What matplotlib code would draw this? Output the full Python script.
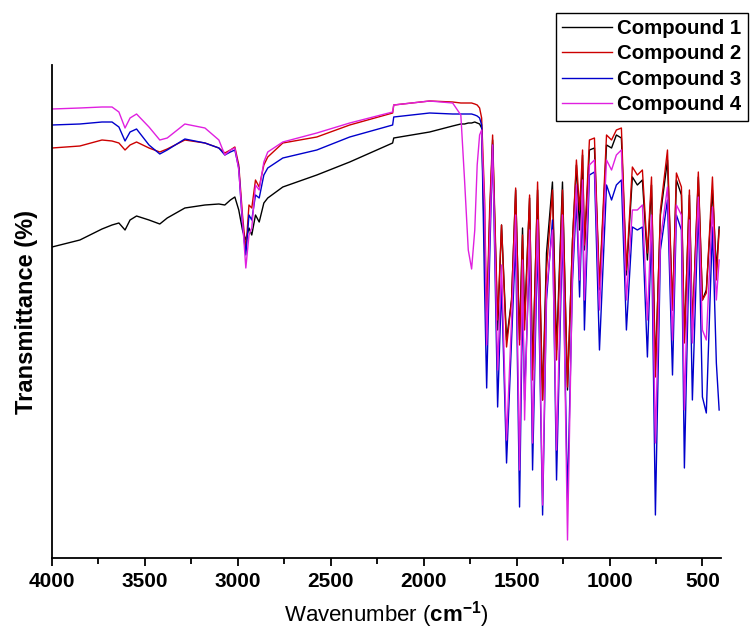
import matplotlib
matplotlib.use("Agg")
import matplotlib.pyplot as plt

plt.rcParams['font.family'] = ['Liberation Sans', 'DejaVu Sans']
plt.rcParams['mathtext.fontset'] = 'custom'
plt.rcParams['mathtext.rm'] = 'Liberation Sans'
plt.rcParams['mathtext.bf'] = 'Liberation Sans:bold'

# ---- data: wavenumber grid (cm-1) and transmittance (%) for each compound ----
wavenumber = [4000, 3850, 3731, 3677, 3640, 3607, 3580, 3545, 3478, 3420, 3380, 3285,
              3177, 3102, 3070, 3040, 3016, 2995, 2975, 2957, 2940, 2925, 2905, 2885,
              2860, 2839, 2758, 2575, 2398, 2167, 2161, 1968, 1844, 1800, 1780, 1760,
              1742, 1725, 1712, 1699, 1688,
              1672, 1661, 1645, 1629, 1602, 1581, 1554, 1527, 1505, 1484, 1468, 1457,
              1430, 1414, 1387, 1360, 1339, 1307, 1285, 1253, 1226, 1199, 1178, 1161,
              1145, 1135, 1108, 1081, 1054, 1016, 989, 963, 936, 909, 877, 850, 823,
              796, 774, 753, 726, 688, 661, 640, 613, 597, 570, 554, 522, 500, 479,
              446, 425, 410]

compound1 = [62.2, 63.6, 65.8, 66.6, 67.0, 65.6, 67.6, 68.4, 67.6, 66.8, 68.0, 70.0,
             70.6, 70.8, 70.6, 71.6, 72.2, 69.6, 65.6, 63.6, 66.0, 64.6, 68.6, 67.2,
             71.0, 72.0, 74.2, 76.6, 79.2, 83.0, 84.0, 85.2, 86.4, 86.8, 86.8, 87.0,
             87.0, 87.2, 87.0, 86.8, 86.0,
             61.6, 45.6, 67.6, 83.6, 45.6, 66.6, 43.6, 51.6, 73.6, 43.6, 66.0, 47.6,
             72.0, 37.6, 73.6, 31.6, 61.0, 75.2, 41.6, 75.2, 33.6, 63.6, 78.6, 65.6,
             80.6, 61.6, 81.6, 82.0, 53.6, 82.6, 82.0, 84.6, 84.0, 56.6, 76.2, 74.6,
             75.6, 59.6, 74.6, 37.6, 68.6, 79.6, 49.6, 75.6, 72.6, 43.6, 72.6, 45.6,
             76.2, 51.6, 53.6, 73.6, 57.6, 66.2]

compound2 = [82.0, 82.4, 83.6, 83.4, 83.0, 81.6, 82.6, 83.2, 82.0, 81.2, 81.8, 83.6,
             83.0, 82.0, 81.0, 81.6, 82.2, 78.6, 68.6, 61.6, 70.6, 70.0, 75.6, 74.2,
             78.6, 80.2, 83.0, 84.2, 86.6, 89.0, 90.6, 91.4, 91.2, 91.0, 91.0, 91.0,
             91.0, 90.8, 90.6, 90.0, 88.0,
             71.6, 47.6, 69.6, 84.6, 47.6, 66.6, 42.2, 51.6, 74.0, 42.6, 64.6, 45.6,
             72.6, 35.6, 75.2, 31.6, 57.6, 73.6, 39.6, 73.6, 34.2, 63.6, 79.6, 69.6,
             81.6, 62.6, 83.6, 84.0, 54.2, 84.6, 83.6, 85.6, 86.0, 57.6, 78.2, 76.6,
             77.6, 61.0, 76.2, 36.2, 69.6, 81.6, 49.6, 77.0, 74.2, 43.0, 73.6, 45.6,
             77.2, 51.6, 53.0, 76.2, 55.6, 65.6]

compound3 = [86.6, 86.8, 87.2, 87.2, 86.2, 83.4, 85.2, 85.8, 82.6, 80.8, 81.6, 83.8,
             83.0, 82.0, 80.6, 81.2, 81.6, 78.0, 66.6, 60.6, 68.6, 67.6, 72.6, 72.0,
             76.6, 78.0, 80.0, 81.6, 84.2, 86.6, 88.2, 89.0, 88.8, 88.8, 88.8, 88.8,
             88.8, 88.6, 88.4, 88.0, 86.6,
             53.6, 34.0, 59.6, 82.6, 30.2, 54.6, 19.0, 43.6, 63.6, 10.2, 51.6, 31.6,
             61.6, 17.6, 63.6, 8.6, 51.6, 67.6, 15.6, 65.6, 11.6, 55.6, 71.6, 52.2,
             71.6, 45.6, 76.6, 77.2, 41.6, 74.6, 71.6, 74.6, 75.6, 45.6, 66.2, 65.6,
             66.2, 40.2, 65.6, 8.6, 61.6, 71.6, 36.6, 68.6, 65.6, 18.0, 63.6, 31.6,
             70.2, 32.2, 29.0, 66.2, 39.0, 29.6]

compound4 = [89.8, 90.0, 90.2, 90.2, 89.2, 86.0, 88.0, 88.8, 86.2, 83.6, 84.0, 86.8,
             86.0, 83.6, 80.6, 81.6, 82.0, 77.6, 67.6, 58.0, 64.6, 66.0, 74.6, 73.6,
             79.2, 81.2, 83.2, 85.0, 87.0, 89.2, 90.6, 91.4, 91.0, 88.6, 75.6, 61.6,
             57.8, 65.6, 78.6, 84.6, 85.6,
             69.6, 42.6, 63.6, 82.6, 37.6, 58.6, 23.6, 47.6, 68.6, 17.6, 59.6, 27.6,
             65.6, 23.0, 67.6, 10.6, 53.6, 65.6, 21.6, 68.6, 3.6, 57.6, 74.6, 55.6,
             75.6, 51.6, 78.6, 79.6, 49.6, 79.6, 77.6, 80.6, 81.6, 51.6, 69.6, 69.6,
             70.6, 47.6, 68.6, 23.0, 63.6, 74.2, 43.6, 70.6, 68.6, 29.6, 67.6, 43.0,
             72.2, 45.6, 43.6, 70.2, 51.6, 59.6]

labels = ["Compound 1", "Compound 2", "Compound 3", "Compound 4"]
colors = ["#000000", "#cc0000", "#0000cc", "#e020e0"]
series = [compound1, compound2, compound3, compound4]

fig = plt.figure(figsize=(7.5, 6.35), dpi=100)
ax = fig.add_axes([52/750, 1-558/635, (721-52)/750, (558-65)/635])

for s, c, lab in zip(series, colors, labels):
    ax.plot(wavenumber, s, color=c, lw=1.0, label=lab)

ax.set_xlim(4000, 400)
ax.set_ylim(0, 98.6)
ax.set_xticks([4000, 3500, 3000, 2500, 2000, 1500, 1000, 500])
ax.set_xticks([3750, 3250, 2750, 2250, 1750, 1250, 750], minor=True)
ax.tick_params(axis='x', which='major', direction='out', length=6, width=1.3,
               labelsize=15, pad=4)
ax.tick_params(axis='x', which='minor', direction='out', length=4, width=1.3)
for lab in ax.get_xticklabels():
    lab.set_fontweight('bold')
ax.set_yticks([])
ax.spines['top'].set_visible(False)
ax.spines['right'].set_visible(False)
ax.spines['left'].set_linewidth(1.3)
ax.spines['bottom'].set_linewidth(1.3)

ax.set_xlabel(r'Wavenumber ($\mathbf{cm^{-1}}$)', fontsize=16, labelpad=6)
ax.set_ylabel('Transmittance (%)', fontsize=17, fontweight='bold', labelpad=10)

leg = fig.legend(loc='upper right', bbox_to_anchor=(0.997, 0.98), frameon=True,
                 fancybox=False, edgecolor='black', framealpha=1,
                 prop={'weight': 'bold', 'size': 14.7}, handlelength=2.45,
                 handletextpad=0.25, labelspacing=0.32, borderpad=0.3,
                 borderaxespad=0)
leg.get_frame().set_linewidth(1.0)

fig.savefig("out.png", dpi=100)
